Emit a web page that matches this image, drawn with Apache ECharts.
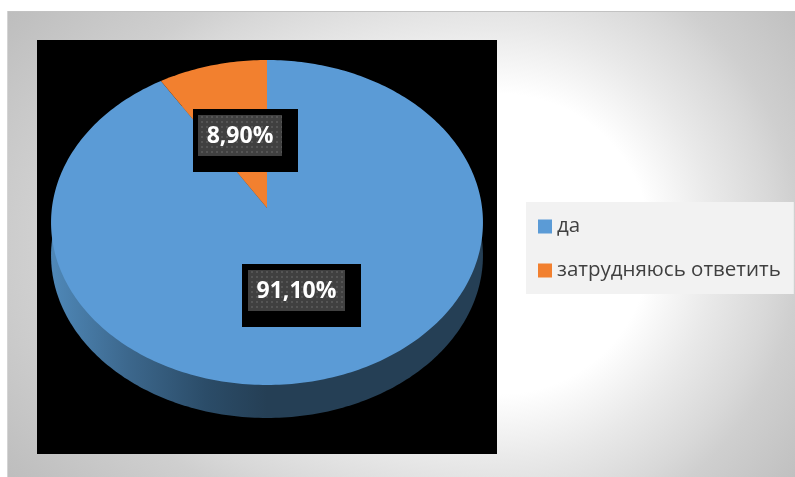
<!DOCTYPE html>
<html>
<head>
<meta charset="utf-8">
<style>html,body{margin:0;padding:0;background:#fff}#c{width:795px;height:477px}</style>
<script src="https://cdn.jsdelivr.net/npm/echarts@6/dist/echarts.min.js"></script>
</head>
<body>
<div id="c"></div>
<script>
const categories = ['да', 'затрудняюсь ответить'];
const shares = [91.1, 8.9];
const colors = ['#5b9bd6', '#f2802f'];

const FONT = '"Open Sans", sans-serif';
const TOTAL = shares.reduce((a, b) => a + b, 0);
const APEX = { x: 267, y: 208 };
const K = 0.0892, AX = 215.1, BY = 161.2, DEPTH = 33;

// perspective projection of the pie's rim; frac 0 is 12 o'clock, clockwise
function rim(frac, dy) {
  const t = frac * Math.PI * 2, u = Math.sin(t), v = Math.cos(t), w = 1 + K * v;
  return [APEX.x + AX * u / w, APEX.y - BY * v / w + (dy || 0)];
}
function sector(f0, f1) {
  const pts = [[APEX.x, APEX.y]], n = Math.max(4, Math.ceil((f1 - f0) * 360));
  for (let i = 0; i <= n; i++) pts.push(rim(f0 + (f1 - f0) * i / n));
  return pts;
}
function wall() {
  const pts = [];
  for (let i = 0; i < 360; i++) pts.push(rim(i / 360, DEPTH));
  return pts;
}
const patternCanvas = document.createElement('canvas');
patternCanvas.width = 5; patternCanvas.height = 5;
(function () {
  const g = patternCanvas.getContext('2d');
  g.fillStyle = '#404040'; g.fillRect(0, 0, 5, 5);
  g.fillStyle = '#555555'; g.fillRect(1, 1, 2, 2);
})();

const boxes = [
  { outer: [242, 264, 119, 63], inner: [248, 270, 97, 41], tx: 296.5, ty: 291 },
  { outer: [193, 109, 105, 63], inner: [198, 115, 84, 41], tx: 240, ty: 136 }
];
function labelOf(v) { return v.toFixed(2).replace('.', ',') + '%'; }

function makeSeries(idx) {
  const before = shares.slice(0, idx).reduce((a, b) => a + b, 0);
  return {
    type: 'custom',
    name: categories[idx],
    coordinateSystem: 'none',
    silent: true,
    animation: false,
    z: 2 + idx,
    itemStyle: { color: colors[idx] },
    data: [[shares[idx]]],
    renderItem: function () {
      const f0 = before / TOTAL, f1 = (before + shares[idx]) / TOTAL, b = boxes[idx];
      const kids = [];
      if (idx === 0) {
        kids.push({
          type: 'polygon', shape: { points: wall() },
          style: { fill: new echarts.graphic.LinearGradient(51, 0, 483, 0, [
            { offset: 0, color: '#4f88b8' },
            { offset: 0.18, color: '#3c678c' },
            { offset: 0.36, color: '#2b4c68' },
            { offset: 0.5, color: '#253f55' },
            { offset: 1, color: '#253f55' }
          ], true) }
        });
      }
      kids.push({ type: 'polygon', shape: { points: sector(f0, f1) }, style: { fill: colors[idx] } });
      kids.push({ type: 'rect', shape: { x: b.outer[0], y: b.outer[1], width: b.outer[2], height: b.outer[3] }, style: { fill: '#000' } });
      kids.push({ type: 'rect', shape: { x: b.inner[0], y: b.inner[1], width: b.inner[2], height: b.inner[3] },
        style: { fill: { image: patternCanvas, repeat: 'repeat' } } });
      kids.push({ type: 'text', style: { x: b.tx, y: b.ty, text: labelOf(shares[idx]), fill: '#fff',
        font: '700 23px ' + FONT, textAlign: 'center', textVerticalAlign: 'middle' } });
      return { type: 'group', children: kids };
    }
  };
}

function panelStops() {
  return [
    { offset: 0, color: '#ffffff' },
    { offset: 0.375, color: '#ffffff' },
    { offset: 0.54, color: '#e9e9e9' },
    { offset: 0.685, color: '#d8d8d8' },
    { offset: 0.75, color: '#cfcfcf' },
    { offset: 0.94, color: '#c0c0c0' },
    { offset: 1, color: '#bcbcbc' }
  ];
}
const LEFT_STRETCH = 1.57;

const chart = echarts.init(document.getElementById('c'), null, { renderer: 'canvas' });
chart.setOption({
  animation: false,
  graphic: [
    { type: 'rect', z: 0, silent: true, shape: { x: 500, y: 11, width: 295, height: 466 },
      style: { fill: new echarts.graphic.RadialGradient(500, 244, 400, panelStops(), true) } },
    { type: 'rect', z: 0, silent: true, x: 500, y: 244, scaleX: LEFT_STRETCH,
      shape: { x: -493 / LEFT_STRETCH, y: -233, width: 493 / LEFT_STRETCH, height: 466 },
      style: { fill: new echarts.graphic.RadialGradient(0, 0, 400, panelStops(), true) } },
    { type: 'rect', z: 0, silent: true, shape: { x: 7, y: 11, width: 788, height: 1 }, style: { fill: '#c2c2c2' } },
    { type: 'rect', z: 0, silent: true, shape: { x: 7, y: 11, width: 1, height: 466 }, style: { fill: '#d4d4d4' } },
    { type: 'rect', z: 1, silent: true, shape: { x: 37, y: 40, width: 460, height: 414 }, style: { fill: '#000' } }
  ],
  legend: {
    data: categories,
    orient: 'vertical',
    left: 526,
    top: 202,
    padding: [14, 13, 13, 12],
    backgroundColor: '#f2f2f2',
    icon: 'rect',
    itemWidth: 14,
    itemHeight: 14,
    itemGap: 23,
    selectedMode: false,
    textStyle: { color: '#404040', fontFamily: FONT, fontSize: 20.5, padding: [0, 0, 0, 0] }
  },
  series: categories.map((_, i) => makeSeries(i))
});
</script>
</body>
</html>
